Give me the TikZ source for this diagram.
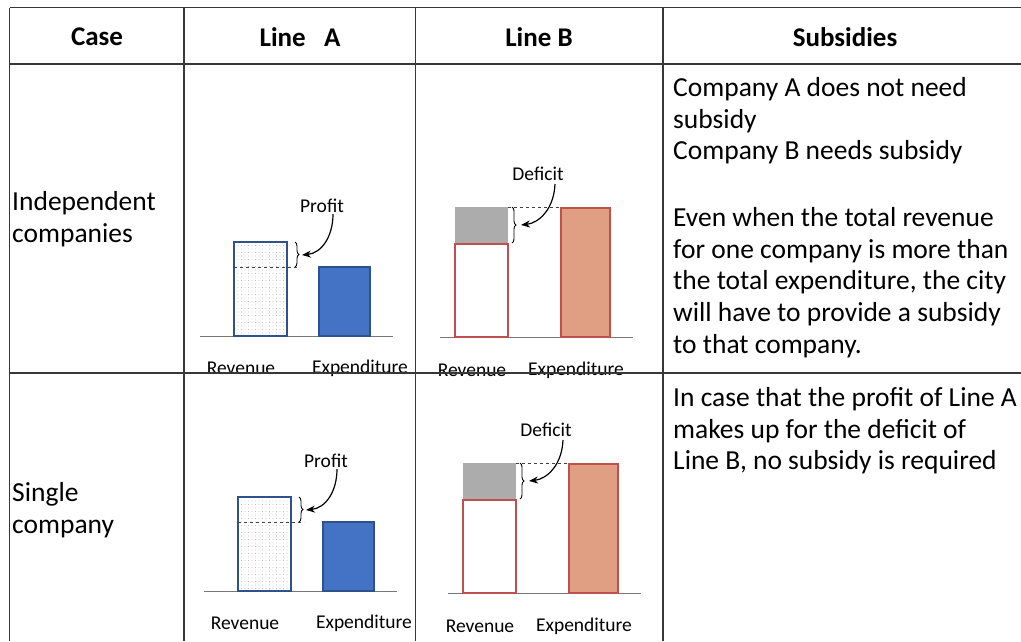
\documentclass[tikz,border=0pt]{standalone}
\usepackage{fontspec}
\setmainfont{Carlito}
\usetikzlibrary{arrows.meta,patterns.meta,decorations.pathreplacing}

\definecolor{tablerulecol}{RGB}{55,55,55}
\definecolor{axisgray}{RGB}{120,120,120}
\definecolor{barblue}{RGB}{68,114,196}
\definecolor{bardarkblue}{RGB}{47,82,143}
\definecolor{barred}{RGB}{192,80,77}
\definecolor{barsalmon}{RGB}{224,158,130}
\definecolor{deficitgray}{RGB}{172,172,172}

\tikzset{
  tablerule/.style={draw=tablerulecol, line width=1.6pt},
  header/.style={font=\bfseries\fontsize{27}{31}\selectfont, inner sep=0pt},
  body/.style={font=\fontsize{27.5}{31.7}\selectfont, align=left, inner sep=0pt},
  barlabel/.style={font=\fontsize{19.5}{22}\selectfont, inner sep=0pt},
  axisline/.style={draw=axisgray, line width=1pt},
  guide/.style={dashed, line width=0.8pt, draw=black!75},
  bracket/.style={decorate, decoration={brace, amplitude=4pt}, line width=0.9pt},
  callout/.style={-{Stealth[length=9pt,width=7pt]}, line width=1.2pt},
  dotted bar/.style={pattern={Dots[radius=0.45pt,distance=3.5pt]}, pattern color=gray!80},
  % chart for a line with a profit
  pics/profitchart/.style={code={
    \draw[axisline] (-34,0) -- (159,0);
    \path[dotted bar] (0,-94) rectangle (53,0);
    \draw[bardarkblue, line width=2pt] (0,-94) rectangle (53,0);
    \draw[guide] (0,-69) -- (66,-69);
    \draw[bracket] (61,-94) -- (61,-69);
    \coordinate (-tip) at (68,-81);
    \draw[fill=barblue, draw=bardarkblue, line width=1.5pt] (85,-69) rectangle (136,0);
    \node[barlabel] (-label) at (88,-130) {Profit};
    \node[barlabel] (-rev) at (7,32) {Revenue};
    \node[barlabel] (-exp) at (126,32) {Expenditure};
    \draw[callout] ([xshift=11pt,yshift=-1pt]-label.south) .. controls (99,-100) and (88,-83) .. (-tip);
  }},
  % chart for a line with a deficit
  pics/deficitchart/.style={code={
    \draw[axisline] (-15,0) -- (178,0);
    \fill[deficitgray] (0,-130) rectangle (53,-93);
    \draw[fill=white, draw=barred, line width=2pt] (0,-93) rectangle (53,0);
    \draw[guide] (53,-130) -- (106,-130);
    \draw[bracket] (57,-130) -- (57,-94);
    \coordinate (-tip) at (66,-112);
    \draw[fill=barsalmon, draw=barred, line width=2pt] (106,-129) rectangle (155,0);
    \node[barlabel] (-label) at (83,-163) {Deficit};
    \node[barlabel] (-rev) at (17,33) {Revenue};
    \node[barlabel] (-exp) at (121,33) {Expenditure};
    \draw[callout] ([xshift=17pt,yshift=-3pt]-label.south) .. controls (99,-128) and (84,-114) .. (-tip);
  }},
}

\begin{document}
\begin{tikzpicture}[x=1pt,y=-1pt]
\useasboundingbox (0,0) rectangle (1021,641);
\fill[white] (0,0) rectangle (1021,641);

% header
\node[header] (hcase) at (97,37) {Case};
\node[header] (hla) at (300,37) {Line~~~A};
\node[header] (hlb) at (539,37) {Line B};
\node[header] (hsub) at (845,37) {Subsidies};

% first column
\node[body, anchor=west] (indep) at (12,219) {Independent\\companies};
\node[body, anchor=west] (single) at (12,510) {Single\\company};

% charts
\pic (ia) at (234,336) {profitchart};
\pic (ib) at (455,337) {deficitchart};
\pic (sa) at (238,591) {profitchart};
\pic (sb) at (463,593) {deficitchart};

% subsidies column
\node[body, anchor=north west] (subind) at (673,77)
  {Company A does not need\\subsidy\\Company B needs subsidy\\[35pt]Even when the total revenue\\for one company is more than\\the total expenditure, the city\\will have to provide a subsidy\\to that company.};
\node[body, anchor=north west] (subsingle) at (673,387)
  {In case that the profit of Line A\\makes up for the deficit of\\Line B, no subsidy is required};

% table rules
\draw[tablerule] (9.5,7.5) -- (1021,7.5);
\draw[tablerule] (9.5,64) -- (1021,64);
\draw[tablerule] (9.5,373) -- (1021,373);
\draw[tablerule] (9.5,7.5) -- (9.5,641);
\draw[tablerule] (184,7.5) -- (184,641);
\draw[tablerule] (415.5,7.5) -- (415.5,641);
\draw[tablerule] (663,7.5) -- (663,641);
\end{tikzpicture}
\end{document}
